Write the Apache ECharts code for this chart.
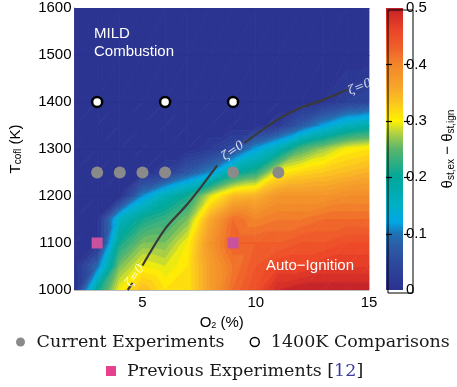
<!DOCTYPE html>
<html>
<head>
<meta charset="utf-8">
<script src="https://cdn.jsdelivr.net/npm/echarts@6/dist/echarts.min.js"></script>
<style>
  html, body { margin:0; padding:0; background:#fff; }
  #chart { width:457px; height:387px; }
</style>
</head>
<body>
<div id="chart"></div>
<script>
// ===== data =====
const xs = [2, 3, 4, 5, 6, 7, 8, 9, 10, 11, 12, 13, 14, 15];           // O2 (%)
const ys = [1000, 1050, 1100, 1150, 1200, 1250, 1300, 1350, 1400, 1500, 1600]; // Tcofl (K)

// theta_st,ex - theta_st,ign, one row per ys entry
const z1000 = [0.00, 0.20, 0.30, 0.34, 0.31, 0.31, 0.37, 0.42, 0.45, 0.49, 0.50, 0.50, 0.50, 0.50];
const z1050 = [0.00, 0.09, 0.26, 0.30, 0.29, 0.31, 0.37, 0.41, 0.44, 0.46, 0.46, 0.47, 0.47, 0.47];
const z1100 = [0.00, 0.00, 0.21, 0.26, 0.26, 0.30, 0.38, 0.43, 0.43, 0.43, 0.44, 0.44, 0.45, 0.45];
const z1150 = [0.00, 0.00, 0.16, 0.21, 0.23, 0.26, 0.36, 0.42, 0.40, 0.41, 0.41, 0.42, 0.42, 0.42];
const z1200 = [0.00, 0.00, 0.00, 0.11, 0.17, 0.21, 0.29, 0.34, 0.35, 0.38, 0.38, 0.38, 0.39, 0.39];
const z1250 = [0.00, 0.00, 0.00, 0.00, 0.02, 0.07, 0.11, 0.19, 0.22, 0.30, 0.32, 0.33, 0.34, 0.35];
const z1300 = [0.00, 0.00, 0.00, 0.00, 0.00, 0.00, 0.02, 0.05, 0.12, 0.17, 0.24, 0.27, 0.30, 0.31];
const z1350 = [0.00, 0.00, 0.00, 0.00, 0.00, 0.00, 0.00, 0.00, 0.00, 0.02, 0.07, 0.12, 0.16, 0.18];
const z1400 = [0.00, 0.00, 0.00, 0.00, 0.00, 0.00, 0.00, 0.00, 0.00, 0.00, 0.00, 0.01, 0.03, 0.04];
const z1500 = [0, 0, 0, 0, 0, 0, 0, 0, 0, 0, 0, 0, 0, 0];
const z1600 = [0, 0, 0, 0, 0, 0, 0, 0, 0, 0, 0, 0, 0, 0];
const zGrid = [z1000, z1050, z1100, z1150, z1200, z1250, z1300, z1350, z1400, z1500, z1600];

// experiments
const currentExp = [[3, 1250], [4, 1250], [5, 1250], [6, 1250], [9, 1250], [11, 1250]];
const comp1400   = [[3, 1400], [6, 1400], [9, 1400]];
const previousExp = [[3, 1100], [9, 1100]];

// zeta = 0 line, split where the labels sit
const zetaSeg1 = [[4.35, 1000], [4.57, 1015]];
const zetaSeg2 = [[5.0, 1052], [6.0, 1130], [6.9, 1178], [7.6, 1220], [8.3, 1265]];
const zetaSeg3 = [[9.5, 1313], [10.95, 1362], [11.95, 1387], [12.95, 1404], [14.05, 1426]];
const zetaLabels = [[4.68, 1030, 55], [9.0, 1296, 35], [14.6, 1432, 22]];

const cbarMax = 0.5;
const cbarInnerTicks = [0.1, 0.2, 0.3, 0.4];

// ===== colormap =====
const cmapStops = [
  [0.00, '#2b3190'], [0.05, '#2d4a9e'], [0.08, '#2a5ea8'], [0.10, '#1f72b4'],
  [0.12, '#00a6e6'], [0.15, '#00b0c6'], [0.20, '#00a79a'], [0.25, '#5ab56c'],
  [0.28, '#b8d43e'], [0.30, '#fff200'], [0.33, '#fcc81e'], [0.36, '#f7a52a'],
  [0.40, '#f2862a'], [0.43, '#ef5f2a'], [0.46, '#ec4527'], [0.49, '#d02a27'],
  [0.50, '#be1e2d']
];
const hex2rgb = h => [parseInt(h.slice(1,3),16), parseInt(h.slice(3,5),16), parseInt(h.slice(5,7),16)];
function cmap(v){
  v = Math.max(0, Math.min(cbarMax, v));
  for (let k = 1; k < cmapStops.length; k++){
    const [v1, c1] = cmapStops[k];
    const [v0, c0] = cmapStops[k-1];
    if (v <= v1){
      const t = (v - v0) / (v1 - v0);
      const a = hex2rgb(c0), b = hex2rgb(c1);
      return 'rgb(' + a.map((q,i)=>Math.round(q + (b[i]-q)*t)).join(',') + ')';
    }
  }
  return cmapStops[cmapStops.length-1][1];
}

// ===== filled contour (isobands on triangles) =====
const step = 0.01;
const nBands = Math.round(cbarMax / step);

function clipPoly(poly, t, keepAbove){
  const out = [];
  for (let k = 0; k < poly.length; k++){
    const a = poly[k], b = poly[(k+1) % poly.length];
    const ina = keepAbove ? a.v >= t : a.v <= t;
    const inb = keepAbove ? b.v >= t : b.v <= t;
    if (ina) out.push(a);
    if (ina !== inb){
      const f = (t - a.v) / (b.v - a.v);
      out.push({ x: a.x + f*(b.x-a.x), y: a.y + f*(b.y-a.y), v: t });
    }
  }
  return out;
}

function renderContour(params, api){
  const i = api.value(2), j = api.value(3);
  const corner = (ii, jj) => {
    const p = api.coord([xs[ii], ys[jj]]);
    return { x: p[0], y: p[1], v: zGrid[jj][ii] };
  };
  const a = corner(i, j), b = corner(i+1, j), c = corner(i+1, j+1), d = corner(i, j+1);
  const children = [];
  [[a, b, c], [a, c, d]].forEach(tri => {
    const vs = tri.map(p => p.v);
    const vmin = Math.min(...vs), vmax = Math.max(...vs);
    for (let k = 0; k < nBands; k++){
      const lo = k === 0 ? -1 : k*step;
      const hi = k === nBands-1 ? 9 : (k+1)*step;
      if (hi <= vmin || lo > vmax) continue;
      let poly = clipPoly(tri, lo, true);
      poly = clipPoly(poly, hi, false);
      if (poly.length < 3) continue;
      const col = cmap((k + 0.5) * step);
      children.push({
        type: 'polygon',
        shape: { points: poly.map(p => [p.x, p.y]) },
        style: { fill: col, stroke: col, lineWidth: 0.8 }
      });
    }
  });
  return { type: 'group', children };
}

const cells = [];
for (let j = 0; j < ys.length - 1; j++)
  for (let i = 0; i < xs.length - 1; i++)
    cells.push([xs[i], ys[j], i, j]);

// ===== chart =====
const chart = echarts.init(document.getElementById('chart'), null, { renderer: 'canvas' });

const SANS = 'Liberation Sans';
const SERIF = 'DejaVu Serif';
const zetaColor = '#3a3a3a';

const zetaLine = (data, name) => ({
  name, type: 'line', data, xAxisIndex: 0, yAxisIndex: 0,
  symbol: 'none', smooth: 0.3, silent: true, z: 5,
  lineStyle: { color: zetaColor, width: 2.2 }
});

const baseGraphic = [
  { id: 'mild', type: 'text', left: 94, top: 25, z: 100, silent: true,
    style: { text: 'MILD\nCombustion', fill: '#fff', font: '15px Liberation Sans', lineHeight: 18 } },
  { id: 'auto', type: 'text', left: 266, top: 258, z: 100, silent: true,
    style: { text: 'Auto\u2212Ignition', fill: '#fff', font: '15px Liberation Sans' } },
  // colorbar frame
  { id: 'cbFrame', type: 'rect', left: 385.5, top: 7.5, z: 100, silent: true,
    shape: { width: 25, height: 283 }, style: { fill: 'none', stroke: '#000', lineWidth: 1 } }
];

const option = {
  animation: false,
  backgroundColor: '#fff',
  grid: [
    { left: 71, top: 8, width: 298, height: 282 },
    { left: 386, top: 8, width: 24, height: 282 }
  ],
  xAxis: [
    {
      type: 'value', gridIndex: 0, min: 2, max: 15,
      axisLine: { show: true, lineStyle: { color: '#bbb', width: 1 } },
      axisTick: { show: false },
      splitLine: { show: false },
      axisLabel: { customValues: [5, 10, 15], color: '#000', fontSize: 15, fontFamily: SANS, margin: 5 },
      name: '{a|O}{s|2}{a| (%)}', nameLocation: 'middle', nameGap: 24,
      nameTextStyle: {
        rich: {
          a: { fontSize: 15, fontFamily: SANS, color: '#000', lineHeight: 16 },
          s: { fontSize: 9, fontFamily: SANS, color: '#000', verticalAlign: 'bottom', lineHeight: 10 }
        }
      }
    },
    { type: 'category', gridIndex: 1, data: [''], show: false, boundaryGap: true }
  ],
  yAxis: [
    {
      type: 'value', gridIndex: 0, min: 1000, max: 1600, interval: 100,
      axisLine: { show: true, lineStyle: { color: '#888', width: 1 } },
      axisTick: { show: false },
      splitLine: { show: false },
      axisLabel: { color: '#000', fontSize: 15, fontFamily: SANS, margin: 3, formatter: v => String(v) },
      name: '{a|T}{s|cofl}{a| (K)}', nameLocation: 'middle', nameGap: 51, nameRotate: 90,
      nameTextStyle: {
        rich: {
          a: { fontSize: 15, fontFamily: SANS, color: '#000', lineHeight: 16 },
          s: { fontSize: 10, fontFamily: SANS, color: '#000', verticalAlign: 'bottom', lineHeight: 10 }
        }
      }
    },
    {
      type: 'value', gridIndex: 1, position: 'right', min: 0, max: cbarMax, interval: 0.1,
      axisLine: { show: false },
      axisTick: { show: false },
      splitLine: { show: false },
      axisLabel: { color: '#000', fontSize: 15, fontFamily: SANS, margin: 3 },
      name: '{t|θ}{s|st,ex}{t| − θ}{s|st,ign}', nameLocation: 'middle', nameGap: 37, nameRotate: 90,
      nameTextStyle: {
        rich: {
          t: { fontSize: 15, fontFamily: SANS, color: '#000', lineHeight: 16 },
          s: { fontSize: 10, fontFamily: SANS, color: '#000', verticalAlign: 'bottom', lineHeight: 10 }
        }
      }
    }
  ],
  legend: [
    {
      data: [
        { name: 'Current Experiments', icon: 'circle', itemStyle: { color: '#8a8a8a' } },
        { name: '1400K Comparisons', icon: 'circle', itemStyle: { color: '#fff', borderColor: '#000', borderWidth: 1.5 } }
      ],
      left: 16, top: 333, padding: 0, itemWidth: 22, itemHeight: 9, itemGap: 25,
      selectedMode: false,
      textStyle: { fontFamily: SERIF, fontSize: 17.5, color: '#1a1a1a' }
    },
    {
      data: [
        { name: 'Previous Experiments', icon: 'path://M0,0L10,0L10,10L0,10Z', itemStyle: { color: '#e6408f' } }
      ],
      left: 106, top: 362, padding: 0, itemWidth: 22, itemHeight: 10,
      selectedMode: false,
      formatter: name => name + ' [{b|12}]',
      textStyle: {
        fontFamily: SERIF, fontSize: 17.5, color: '#1a1a1a',
        rich: { b: { fontFamily: SERIF, fontSize: 17.5, color: '#3b3b9c' } }
      }
    }
  ],
  graphic: baseGraphic,
  series: [
    {
      name: 'contour', type: 'custom', coordinateSystem: 'cartesian2d',
      xAxisIndex: 0, yAxisIndex: 0, data: cells, encode: { x: 0, y: 1 },
      renderItem: renderContour, clip: true, silent: true, z: 1
    },
    zetaLine(zetaSeg1, 'zeta1'),
    zetaLine(zetaSeg2, 'zeta2'),
    zetaLine(zetaSeg3, 'zeta3'),
    {
      name: 'zetaLabels', type: 'scatter', xAxisIndex: 0, yAxisIndex: 0,
      symbolSize: 0, silent: true, z: 6,
      data: zetaLabels.map(d => ({
        value: [d[0], d[1]],
        label: { show: true, position: 'inside', rotate: d[2], formatter: '\u03b6=0',
                 color: '#fff', fontSize: 12, fontFamily: SERIF, fontStyle: 'italic' }
      }))
    },
    {
      name: 'Current Experiments', type: 'scatter', xAxisIndex: 0, yAxisIndex: 0,
      data: currentExp, symbol: 'circle', symbolSize: 12, z: 7,
      itemStyle: { color: '#8a8a8a', opacity: 1 }
    },
    {
      name: '1400K Comparisons', type: 'scatter', xAxisIndex: 0, yAxisIndex: 0,
      data: comp1400, symbol: 'circle', symbolSize: 10, z: 7,
      itemStyle: { color: '#fff', borderColor: '#000', borderWidth: 2.5, opacity: 1 }
    },
    {
      name: 'Previous Experiments', type: 'scatter', xAxisIndex: 0, yAxisIndex: 0,
      data: previousExp, symbol: 'rect', symbolSize: 11, z: 7,
      itemStyle: { color: '#c8529e', opacity: 1 }
    },
    {
      name: 'colorbar', type: 'bar', xAxisIndex: 1, yAxisIndex: 1,
      data: [cbarMax], barWidth: '100%', silent: true, z: 2,
      itemStyle: {
        color: new echarts.graphic.LinearGradient(0, 1, 0, 0,
          cmapStops.map(s => ({ offset: s[0] / cbarMax, color: s[1] })))
      }
    }
  ]
};

chart.setOption(option);

// colorbar ticks: short dashes on both inner edges, placed from the colorbar's own axis
const cbLeft = 386, cbRight = 410, tickLen = 6;
const tickLines = [];
cbarInnerTicks.forEach((v, k) => {
  const y = Math.round(chart.convertToPixel({ yAxisIndex: 1 }, v)) + 0.5;
  const st = { stroke: '#000', lineWidth: 1.2 };
  tickLines.push({ id: 'tl' + k, type: 'line', z: 101, silent: true,
    shape: { x1: cbLeft, y1: y, x2: cbLeft + tickLen, y2: y }, style: st });
  tickLines.push({ id: 'tr' + k, type: 'line', z: 101, silent: true,
    shape: { x1: cbRight - tickLen, y1: y, x2: cbRight, y2: y }, style: st });
});
chart.setOption({ graphic: baseGraphic.concat(tickLines) });
</script>
</body>
</html>
